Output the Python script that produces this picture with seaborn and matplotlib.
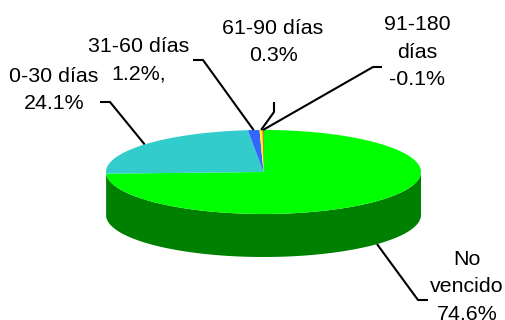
import numpy as np
import matplotlib.pyplot as plt
from matplotlib.colors import to_rgb
from matplotlib.patches import Polygon
import seaborn as sns

# Data (share of portfolio by days overdue)
categories = ["No vencido", "0-30 días", "31-60 días", "61-90 días", "91-180 días"]
shares = [74.6, 24.1, 1.2, 0.3, -0.1]
label_texts = ["No\nvencido\n74.6%", "0-30 días\n24.1%", "31-60 días\n1.2%,",
               "61-90 días\n0.3%", "91-180\ndías\n-0.1%"]
slice_colors = ["#00FF00", "#33CCCC", "#3366FF", "#FFFF00", "#FF0000"]

# Layout (pixel space of the 505x320 canvas)
label_pos = [(467, 287), (54, 90), (139, 60), (273, 42), (417, 52)]
leader_elbows = [[(428, 300), (418, 300)],
                 [(100, 102), (110, 102)],
                 [(193, 60), (203, 60)],
                 [(274, 102), (274, 112)],
                 [(382, 67), (373, 67)]]

sns.set_theme(style="white")
plt.rcParams['font.family'] = ['Liberation Sans', 'DejaVu Sans']

cx, cy, rx, ry, depth = 263.5, 172, 157.5, 42, 43


def rim(theta):
    # theta in degrees, clockwise from 12 o'clock
    t = np.radians(theta)
    return cx + rx * np.sin(t), cy - ry * np.cos(t)


fig = plt.figure(figsize=(5.05, 3.2), dpi=100)
ax = fig.add_axes([0, 0, 1, 1])
ax.set_xlim(0, 505)
ax.set_ylim(320, 0)
ax.axis('off')

vals = np.abs(np.array(shares))
edges = np.concatenate([[0], np.cumsum(vals) / vals.sum() * 360])

# side walls (front half only)
for i, col in enumerate(slice_colors):
    lo, hi = max(edges[i], 90), min(edges[i + 1], 270)
    if hi <= lo:
        continue
    ts = np.linspace(lo, hi, 120)
    xs, ys = rim(ts)
    pts = np.concatenate([np.column_stack([xs, ys]),
                          np.column_stack([xs[::-1], ys[::-1] + depth])])
    dark = tuple(np.array(to_rgb(col)) * 0.5)
    ax.add_patch(Polygon(pts, closed=True, facecolor=dark, edgecolor='none'))

# top face
for i, col in enumerate(slice_colors):
    ts = np.linspace(edges[i], edges[i + 1], 200)
    xs, ys = rim(ts)
    pts = np.vstack([[cx, cy], np.column_stack([xs, ys])])
    ax.add_patch(Polygon(pts, closed=True, facecolor=col, edgecolor='none'))

# labels with leader lines
for i, txt in enumerate(label_texts):
    mid = (edges[i] + edges[i + 1]) / 2
    ex, ey = rim(mid)
    if 90 < mid < 270:
        ey += depth
    path = leader_elbows[i] + [(ex, ey)]
    ax.plot([p[0] for p in path], [p[1] for p in path], color='black', lw=1.5,
            solid_capstyle='butt')
    ax.text(label_pos[i][0], label_pos[i][1], txt, ha='center', va='center',
            multialignment='center', fontsize=15.4, linespacing=1.55, color='black')

fig.savefig("out.png", dpi=100)
